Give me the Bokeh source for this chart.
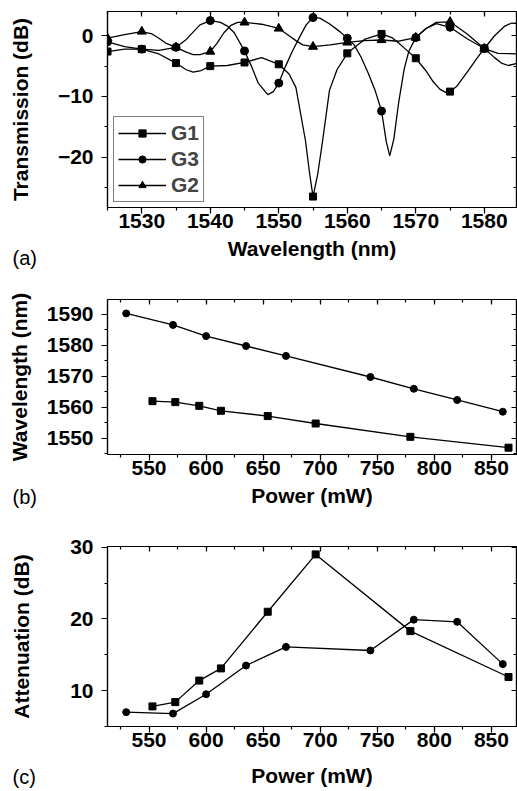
from bokeh.plotting import figure
from bokeh.layouts import column
from bokeh.models import (Range1d, LinearAxis, SingleIntervalTicker, Title, Legend,
                          LegendItem, CustomJSTickFormatter)
from bokeh.embed import file_html
from bokeh.resources import INLINE

FONT = "Liberation Sans"
FS = "21px"

# ---------------- Panel (a): transmission spectra ----------------
wl_marks = [1525, 1530, 1535, 1540, 1545, 1550, 1555, 1560, 1565, 1570, 1575, 1580]
g1_marks = [-2.6, -2.2, -4.5, -5.0, -4.4, -4.7, -26.5, -2.9, 0.3, -3.7, -9.2, -2.1]
g3_marks = [-1.0, -2.2, -1.9, 2.5, -2.5, -7.8, 3.0, -0.4, -12.4, -0.3, 1.4, -2.1]
g2_marks = [-0.4, 0.7, -1.9, -2.6, 2.2, 1.2, -1.8, -1.1, -0.7, -0.3, 2.3, -2.1]

# smooth traces
g1_wl = [1525, 1527.5, 1530, 1532.5, 1535, 1536.5, 1537.5, 1538.5, 1540, 1542.5, 1545,
         1547.5, 1550, 1551.5, 1552.5, 1553.9, 1554.5, 1555, 1555.7, 1556.4, 1557.4,
         1558.5, 1560, 1562.5, 1565, 1566.5, 1567.5, 1568.5, 1570, 1571.5, 1572.5,
         1573.5, 1574.5, 1575, 1576, 1577.5, 1579, 1580, 1581.5, 1583, 1584, 1585]
g1_tr = [-2.6, -2.2, -2.2, -3.0, -4.5, -5.6, -6.0, -5.8, -5.0, -4.9, -4.4,
         -3.6, -4.7, -6.3, -8.5, -17.3, -22.7, -26.5, -22.7, -17.3, -9.0,
         -5.6, -2.9, -0.6, 0.3, -0.3, -1.2, -2.2, -3.7, -5.8, -7.5,
         -8.8, -9.4, -9.2, -8.3, -6.0, -3.6, -2.1, 0.0, 1.6, 2.1, 2.0]

g3_wl = [1525, 1527.5, 1530, 1532.5, 1535, 1536.5, 1537.5, 1538.5, 1540, 1541.5, 1542.5,
         1543.5, 1545, 1546, 1547, 1548.4, 1549.2, 1550, 1551, 1552, 1553, 1554, 1555,
         1556, 1557.5, 1559, 1560, 1561, 1562, 1563, 1564, 1565, 1565.7, 1566.2, 1566.8,
         1567.5, 1568.3, 1569, 1570, 1571.5, 1573, 1575, 1577.5, 1580, 1582, 1585]
g3_tr = [-1.0, -1.8, -2.2, -2.4, -1.9, -0.6, 0.6, 1.8, 2.5, 2.2, 1.6,
         0.5, -2.5, -5.0, -7.8, -9.7, -9.2, -7.8, -5.0, -2.5, -0.3, 1.8, 3.0,
         2.9, 1.9, 0.6, -0.4, -1.5, -3.5, -6.0, -8.8, -12.4, -17.5, -19.8, -17.0,
         -11.0, -5.5, -2.5, -0.3, 1.2, 2.0, 1.4, -0.5, -2.1, -2.9, -3.0]

g2_wl = [1525, 1527.5, 1530, 1531.5, 1532.5, 1533.5, 1535, 1536.5, 1537.5, 1538.5, 1540,
         1541, 1542, 1543, 1544, 1545, 1547.5, 1550, 1551.5, 1552.5, 1553.5, 1555,
         1557.5, 1560, 1562.5, 1565, 1567.5, 1570, 1571.5, 1573, 1575, 1577.5, 1580,
         1581.5, 1582.5, 1583.5, 1585]
g2_tr = [-0.4, 0.2, 0.7, 0.3, -0.4, -1.2, -1.9, -2.7, -3.1, -3.1, -2.6,
         -1.2, 0.5, 1.7, 2.2, 2.2, 1.9, 1.2, 0.0, -0.8, -1.5, -1.8,
         -1.5, -1.1, -0.8, -0.7, -0.9, -0.3, 1.2, 2.2, 2.3, 0.3, -2.1,
         -3.6, -4.5, -4.9, -4.5]

# ---------------- Panels (b), (c): versus pump power ----------------
power_g1 = [553, 573, 594, 613, 654, 696, 779, 865]
power_g3 = [530, 571, 600, 635, 670, 744, 782, 820, 860]
wl_g1 = [1562.0, 1561.7, 1560.5, 1558.9, 1557.2, 1554.8, 1550.5, 1547.0]
wl_g3 = [1590.3, 1586.6, 1583.0, 1579.8, 1576.6, 1569.8, 1566.0, 1562.4, 1558.6]
att_g1 = [7.8, 8.4, 11.4, 13.1, 21.0, 29.0, 18.3, 11.9]
att_g3 = [7.0, 6.8, 9.5, 13.5, 16.1, 15.6, 19.9, 19.6, 13.7]

LW = 1.3
blank = CustomJSTickFormatter(code="return ''")


def make_fig(height, xr, yr, xint, yint, xlabel, ylabel, top, bottom, ylab_standoff,
             xlab_standoff):
    p = figure(width=517, height=height, x_range=Range1d(*xr), y_range=Range1d(*yr),
               output_backend="svg", toolbar_location=None,
               min_border_left=107, min_border_right=1, min_border_top=top,
               min_border_bottom=bottom)
    p.grid.visible = False
    p.outline_line_color = "black"
    p.outline_line_width = 1.2
    p.background_fill_color = "white"
    p.border_fill_color = "white"
    p.xaxis.ticker = SingleIntervalTicker(interval=xint, num_minor_ticks=2)
    p.yaxis.ticker = SingleIntervalTicker(interval=yint, num_minor_ticks=2)
    for ax in (p.xaxis[0], p.yaxis[0]):
        ax.axis_line_width = 1.2
        ax.major_tick_line_width = 1.2
        ax.minor_tick_line_width = 1.2
        ax.major_tick_out = 6
        ax.major_tick_in = 0
        ax.minor_tick_out = 3
        ax.minor_tick_in = 0
        ax.major_label_text_font = FONT
        ax.major_label_text_font_style = "bold"
        ax.major_label_text_font_size = FS
        ax.major_label_text_color = "black"
        ax.axis_label_text_font = FONT
        ax.axis_label_text_font_style = "bold"
        ax.axis_label_text_font_size = FS
        ax.axis_label_text_color = "black"
    p.xaxis.axis_label = xlabel
    p.yaxis.axis_label = ylabel
    p.xaxis.major_label_standoff = 0
    p.xaxis.axis_label_standoff = xlab_standoff
    p.yaxis.major_label_standoff = 8
    p.yaxis.axis_label_standoff = ylab_standoff
    # mirrored inward ticks on top and right
    for side, iv in (("above", xint), ("right", yint)):
        ax = LinearAxis(ticker=SingleIntervalTicker(interval=iv, num_minor_ticks=2),
                        formatter=blank, major_label_standoff=0,
                        major_tick_out=0, major_tick_in=5, minor_tick_out=0,
                        minor_tick_in=3, axis_line_width=1.2,
                        major_tick_line_width=1.2, minor_tick_line_width=1.2)
        p.add_layout(ax, side)
    return p


def tag(p, text, standoff):
    # panel letter, drawn left of the x-axis title (zero-height title panel)
    p.add_layout(Title(text=text, align="left", offset=-95, vertical_align="top",
                       standoff=standoff, text_font="Liberation Sans",
                       text_font_size="20px", text_font_style="normal",
                       text_color="black"), "below")


# ----- (a)
pa = make_fig(278, (1525, 1584.7), (-28.3, 4.0), 10, 10,
              "Wavelength (nm)", "Transmission (dB)", 11, 71, 23, 6)
l1 = pa.line(g1_wl, g1_tr, line_color="black", line_width=LW)
m1 = pa.scatter(wl_marks, g1_marks, marker="square", size=7, color="black")
l3 = pa.line(g3_wl, g3_tr, line_color="black", line_width=LW)
m3 = pa.scatter(wl_marks, g3_marks, marker="circle", size=8, color="black")
l2 = pa.line(g2_wl, g2_tr, line_color="black", line_width=LW)
m2 = pa.scatter(wl_marks, g2_marks, marker="triangle", size=9, color="black")
leg = Legend(items=[LegendItem(label="G1", renderers=[l1, m1]),
                    LegendItem(label="G3", renderers=[l3, m3]),
                    LegendItem(label="G2", renderers=[l2, m2])],
             location=(6, 5), border_line_color="black", border_line_width=1.2,
             background_fill_alpha=1.0, label_text_font=FONT,
             label_text_font_style="bold", label_text_font_size=FS,
             glyph_width=48, glyph_height=18, label_height=18, spacing=2,
             padding=4, margin=0, label_standoff=5)
pa.add_layout(leg, "center")
tag(pa, "(a)", -32)

# ----- (b)
pb = make_fig(240, (513.6, 872), (1544.8, 1594.8), 50, 10,
              "Power (mW)", "Wavelength (nm)", 21, 64, 13, 6)
pb.line(power_g3, wl_g3, line_color="black", line_width=LW)
pb.scatter(power_g3, wl_g3, marker="circle", size=7, color="black")
pb.line(power_g1, wl_g1, line_color="black", line_width=LW)
pb.scatter(power_g1, wl_g1, marker="square", size=7, color="black")
tag(pb, "(b)", -48)

# ----- (c)
pc = make_fig(272, (513.6, 872), (5.0, 30.1), 50, 10,
              "Power (mW)", "Attenuation (dB)", 28, 64, 34, 14)
pc.line(power_g1, att_g1, line_color="black", line_width=LW)
pc.scatter(power_g1, att_g1, marker="square", size=7, color="black")
pc.line(power_g3, att_g3, line_color="black", line_width=LW)
pc.scatter(power_g3, att_g3, marker="circle", size=7, color="black")
tag(pc, "(c)", -47)

layout = column(pa, pb, pc, spacing=0)
open("out.html", "w").write(file_html(layout, INLINE))
